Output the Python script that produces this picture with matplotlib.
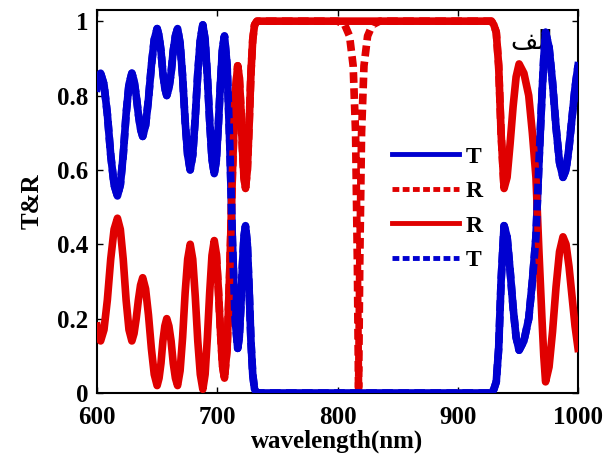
import numpy as np
import matplotlib
matplotlib.use('Agg')
from matplotlib import pyplot as plt

# solid curves (structure without defect)
wl = [600, 601.5, 603, 605.8, 608.6, 611.4, 614.2, 617, 619.4, 621.8, 624.2, 626.6, 629,
      630.8, 632.6, 634.4, 636.2, 638, 640.4, 642.8, 645.2, 647.6, 650,
      651.6, 653.2, 654.8, 656.4, 658, 659.8, 661.6, 663.4, 665.2, 667,
      669.1, 671.2, 673.3, 675.4, 677.5, 679.6, 681.7, 683.8, 685.9, 688,
      689.9, 691.8, 693.7, 695.6, 697.5, 699.2, 700.9, 702.6, 704.3, 706,
      708.2, 710.4, 712.6, 714.8, 717, 718.3, 719.6, 720.9, 722.2, 723.5,
      725, 726.5, 728, 729.5, 731, 733,
      928, 930, 932, 934, 936, 938.5, 941, 943.5, 946, 948.5, 951,
      955, 959, 962, 965, 967.5, 970, 971.5, 973, 975.9, 978.8, 981.7, 984.6, 987.5,
      990, 992.5, 995, 997.5, 1000]
T = [0.82, 0.85, 0.86, 0.83, 0.75, 0.64, 0.56, 0.53, 0.56, 0.64, 0.75, 0.83, 0.86,
     0.84, 0.80, 0.75, 0.71, 0.69, 0.72, 0.79, 0.88, 0.95, 0.98,
     0.96, 0.92, 0.86, 0.82, 0.80, 0.82, 0.86, 0.92, 0.96, 0.98,
     0.94, 0.85, 0.73, 0.64, 0.60, 0.64, 0.74, 0.86, 0.95, 0.99,
     0.95, 0.85, 0.73, 0.63, 0.59, 0.625, 0.72, 0.83, 0.925, 0.96,
     0.88, 0.67, 0.41, 0.20, 0.12, 0.15, 0.23, 0.34, 0.42, 0.45,
     0.40, 0.28, 0.14, 0.05, 0.01, 0.0,
     0.0, 0.01, 0.03, 0.12, 0.30, 0.45, 0.42, 0.33, 0.23, 0.15, 0.115,
     0.14, 0.20, 0.30, 0.42, 0.62, 0.80, 0.90, 0.97, 0.93, 0.835, 0.715, 0.62, 0.58,
     0.60, 0.66, 0.74, 0.82, 0.88]
R = [0.18, 0.15, 0.14, 0.17, 0.25, 0.36, 0.44, 0.47, 0.44, 0.36, 0.25, 0.17, 0.14,
     0.16, 0.20, 0.25, 0.29, 0.31, 0.28, 0.21, 0.12, 0.05, 0.02,
     0.04, 0.08, 0.14, 0.18, 0.20, 0.18, 0.14, 0.08, 0.04, 0.02,
     0.06, 0.15, 0.27, 0.36, 0.40, 0.36, 0.26, 0.14, 0.05, 0.01,
     0.05, 0.15, 0.27, 0.37, 0.41, 0.375, 0.28, 0.17, 0.075, 0.04,
     0.12, 0.33, 0.59, 0.80, 0.88, 0.85, 0.77, 0.66, 0.58, 0.55,
     0.60, 0.72, 0.86, 0.95, 0.99, 1.0,
     1.0, 0.99, 0.97, 0.88, 0.70, 0.55, 0.58, 0.67, 0.77, 0.85, 0.885,
     0.86, 0.80, 0.70, 0.58, 0.38, 0.20, 0.10, 0.03, 0.07, 0.165, 0.285, 0.38, 0.42,
     0.40, 0.34, 0.26, 0.18, 0.12]

# dashed reflectance (with defect), band-gap region
wl_d = [699.2, 700.9, 702.6, 704.3, 706, 708.2, 710.4, 712.6, 714.8, 717, 718.3, 719.6,
        720.9, 722.2, 723.5, 725, 726.5, 728, 729.5, 731, 733,
        800, 806, 810, 813, 815, 816.5, 817.5, 818.5, 820, 822, 825, 829, 835,
        928, 930, 932, 934, 936, 938.5]
R_d = [0.375, 0.28, 0.17, 0.075, 0.04, 0.12, 0.33, 0.59, 0.80, 0.88, 0.85, 0.77,
       0.66, 0.58, 0.55, 0.60, 0.72, 0.86, 0.95, 0.99, 1.0,
       1.0, 0.99, 0.96, 0.88, 0.70, 0.35, 0.0, 0.35, 0.70, 0.88, 0.96, 0.99, 1.0,
       1.0, 0.99, 0.97, 0.88, 0.70, 0.55]

blue = '#0000d0'
red = '#e00000'
serif = 'Liberation Serif'

fig = plt.figure(figsize=(6.12, 4.61), dpi=100)
ax = fig.add_axes([0.1585, 0.1475, 0.786, 0.8308])

ax.plot(wl, T, color=blue, lw=5.5, label='T', zorder=3)
ax.plot(wl_d, R_d, color=red, lw=5.5, ls=(0, (1.4, 0.7)), label='R', zorder=2)
ax.plot(wl, R, color=red, lw=5.5, label='R', zorder=4)
ax.plot(wl, T, color=blue, lw=5.5, ls=(0, (1.4, 0.7)), label='T', zorder=5)

ax.text(979, 0.945, '\ufed2\ufedf\ufe8d', fontsize=19, family='DejaVu Sans',
        ha='right', va='center', zorder=1)

ax.set_xlim(600, 1000)
ax.set_ylim(0, 1.03)
ax.set_xticks([600, 700, 800, 900, 1000])
ax.set_yticks([0, 0.2, 0.4, 0.6, 0.8, 1])
ax.set_yticklabels(['0', '0.2', '0.4', '0.6', '0.8', '1'])
ax.tick_params(direction='in', top=True, right=True, length=4, width=1)
ax.tick_params(axis='x', pad=9)
ax.tick_params(axis='y', pad=6)
for lab in ax.get_xticklabels() + ax.get_yticklabels():
    lab.set_family(serif)
    lab.set_fontweight('bold')
    lab.set_fontsize(18)
for s in ax.spines.values():
    s.set_linewidth(1.5)

ax.set_xlabel('wavelength(nm)', family=serif, fontweight='bold', fontsize=18, labelpad=1)
ax.set_ylabel('T&R', family=serif, fontweight='bold', fontsize=18, labelpad=10)

leg = ax.legend(loc='upper left', bbox_to_anchor=(0.57, 0.70), frameon=False,
                handlelength=2.8, handletextpad=0.3, labelspacing=0.55,
                prop={'family': serif, 'weight': 'bold', 'size': 17})
for h in leg.get_lines():
    h.set_linewidth(3.5)

fig.savefig('out.png', dpi=100)
